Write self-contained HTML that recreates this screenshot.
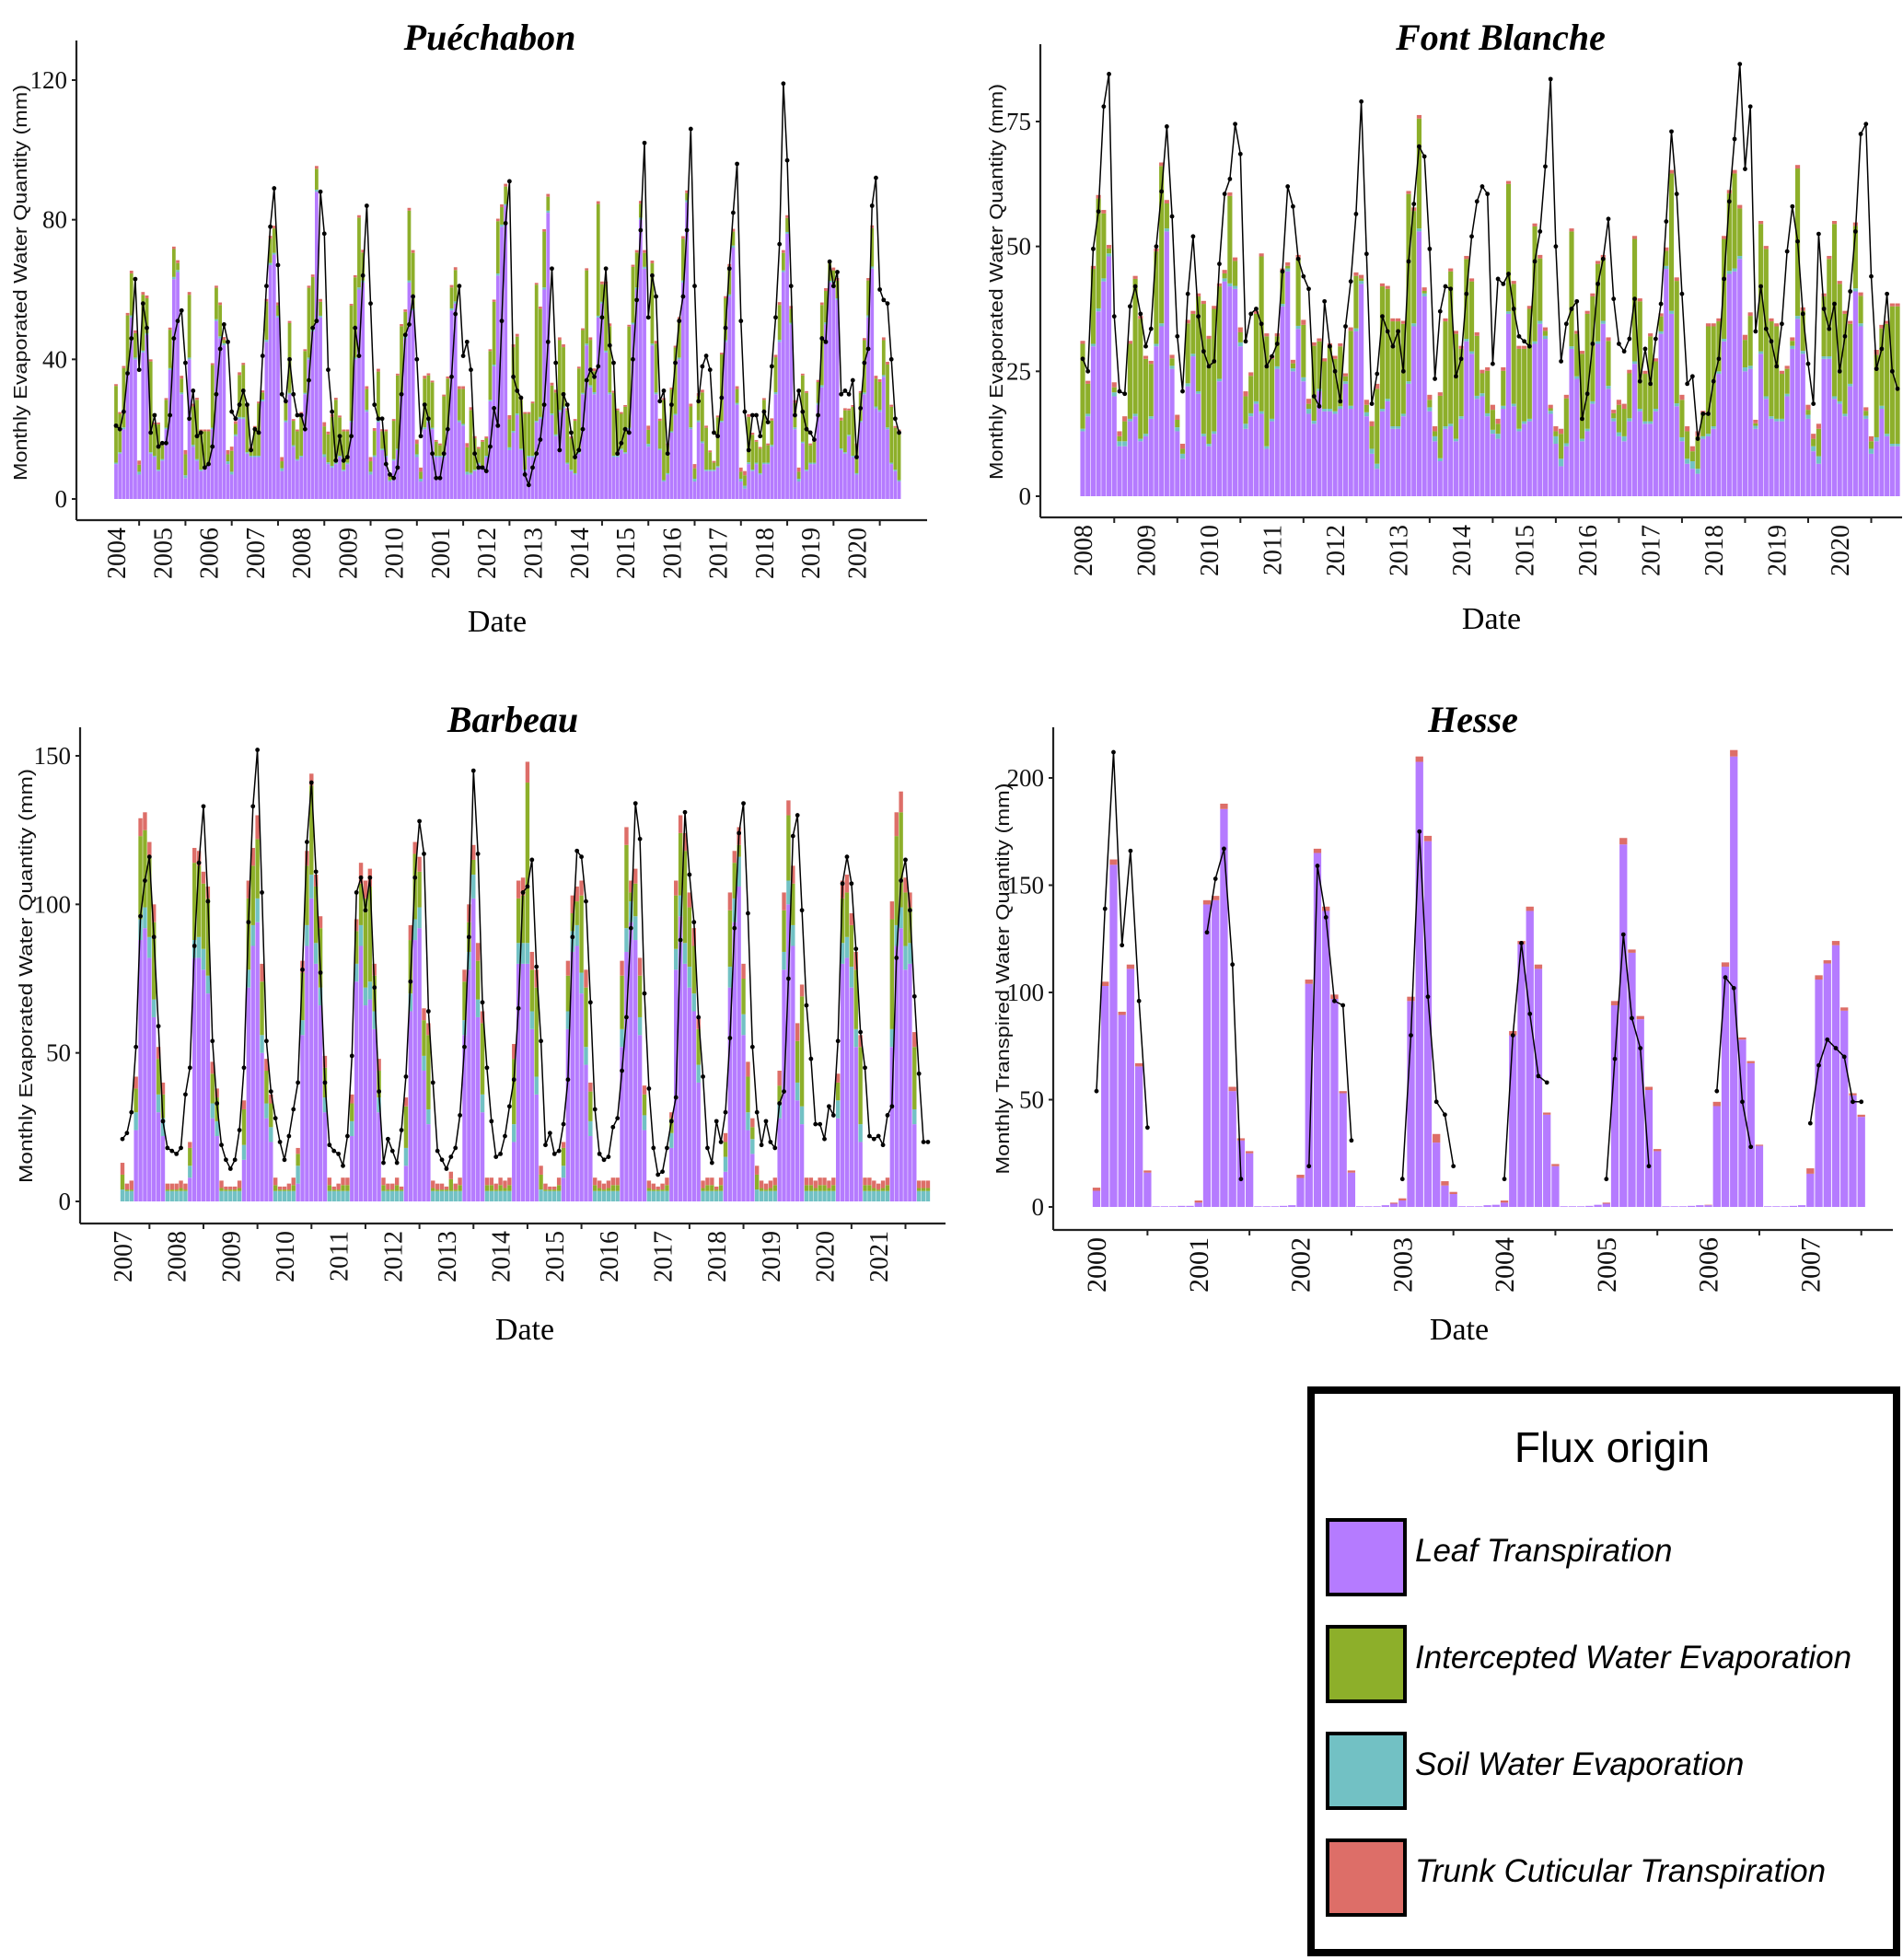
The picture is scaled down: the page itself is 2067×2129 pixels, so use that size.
<!DOCTYPE html>
<html><head><meta charset="utf-8"><style>
html,body{margin:0;padding:0;background:#fff;}
svg{display:block;}
</style></head><body>
<svg id="fig" xmlns="http://www.w3.org/2000/svg" width="2067" height="2129" viewBox="0 0 2067 2129">
<rect x="0" y="0" width="2067" height="2129" fill="#fff"/>
<g id="legend">
<rect x="1424" y="1510" width="636" height="611" fill="#fff" stroke="#000" stroke-width="8"/>
<text x="1751" y="1588" font-family="Liberation Sans, sans-serif" font-size="46" text-anchor="middle" fill="#000">Flux origin</text>
<g><rect x="1442" y="1651" width="84" height="81" fill="#B57BFF" stroke="#000" stroke-width="4"/><text x="1537" y="1696" font-family="Liberation Sans, sans-serif" font-style="italic" font-size="35" fill="#000">Leaf Transpiration</text></g>
<g><rect x="1442" y="1767" width="84" height="81" fill="#8DAF2A" stroke="#000" stroke-width="4"/><text x="1537" y="1812" font-family="Liberation Sans, sans-serif" font-style="italic" font-size="35" fill="#000">Intercepted Water Evaporation</text></g>
<g><rect x="1442" y="1883" width="84" height="81" fill="#72C1C4" stroke="#000" stroke-width="4"/><text x="1537" y="1928" font-family="Liberation Sans, sans-serif" font-style="italic" font-size="35" fill="#000">Soil Water Evaporation</text></g>
<g><rect x="1442" y="1999" width="84" height="81" fill="#DD6E68" stroke="#000" stroke-width="4"/><text x="1537" y="2044" font-family="Liberation Sans, sans-serif" font-style="italic" font-size="35" fill="#000">Trunk Cuticular Transpiration</text></g>
</g>
</svg>
<script>
// ---------------- Puéchabon ----------------
const puLeaf=[10,13,20,36,52,40,7,42,47,13,12,8, 11,20,37,63,65,30,6,40,15,11,8,9, 10,20,51,46,44,10,7,18,23,23,13,12, 12,12,28,45,67,70,52,8,22,30,15,11, 12,30,40,48,88,52,12,10,9,10,12,8, 10,22,40,60,62,25,7,12,22,14,12,5, 11,14,30,46,62,54,12,5,20,22,20,12, 12,12,20,54,56,22,21,7,7,8,10,9, 12,28,38,64,78,84,14,19,24,14,8,12, 12,22,23,60,82,24,18,25,26,10,8,7, 13,30,44,32,30,52,56,42,30,12,12,14, 13,20,50,60,80,66,15,44,30,14,5,7, 19,24,40,62,85,20,5,22,16,8,8,8, 9,22,45,58,72,27,5,3,10,8,10,7, 10,10,15,30,45,65,76,50,20,5,16,8, 10,10,27,32,50,62,62,57,14,13,18,12, 7,22,30,52,66,26,25,35,20,10,8,5];
const puInterc=[22,11,17,16,12,7,2,16,10,26,9,13, 4,8,11,8,2,4,6,18,11,17,11,10, 9,18,9,9,1,2,6,3,12,15,13,2, 8,15,2,11,7,7,3,2,5,20,7,8, 12,12,20,15,6,4,8,8,14,18,11,11, 9,33,23,20,8,6,3,7,14,5,7,1, 11,21,19,7,20,16,3,2,14,13,13,4, 3,17,14,6,9,9,10,7,18,9,4,7, 5,14,18,15,5,5,8,24,22,14,16,12, 15,39,31,16,4,8,12,20,17,15,9,15, 24,18,21,13,6,32,5,19,19,18,13,10, 13,29,16,10,4,4,4,23,14,8,23,8, 12,19,11,12,2,6,3,7,14,12,5,2, 14,19,12,8,4,4,2,3,13,10,6,7, 18,5,7,10,10,5,4,4,7,2,19,22, 5,6,6,23,9,5,3,5,8,12,7,14, 8,8,15,10,11,8,8,10,18,16,12,14];
const puSoil=[0.4,0.4,0.5,0.6,0.6,0.5,0.8,0.5,0.5,0.4,0.4,0.4, 0.4,0.4,0.5,0.6,0.6,0.5,0.8,0.5,0.5,0.4,0.4,0.4, 0.4,0.4,0.5,0.6,0.6,0.8,0.8,0.5,0.5,0.4,0.4,0.4, 0.4,0.4,0.5,0.6,0.6,0.5,0.5,0.8,0.5,0.4,0.4,0.4, 0.4,0.4,0.5,0.6,0.6,0.5,0.8,0.5,0.5,0.4,0.4,0.4, 0.4,0.4,0.5,0.6,0.6,0.5,0.8,0.5,0.5,0.4,0.4,0.4, 0.4,0.4,0.5,0.6,0.6,0.5,0.8,0.8,0.5,0.4,0.4,0.4, 0.4,0.4,0.5,0.6,0.6,0.5,0.5,0.8,0.5,0.4,0.4,0.4, 0.4,0.4,0.5,0.6,0.6,0.5,0.8,0.5,0.5,0.4,0.4,0.4, 0.4,0.4,0.5,0.6,0.6,0.5,0.5,0.5,0.5,0.4,0.4,0.4, 0.4,0.4,0.5,0.6,0.6,0.5,0.5,0.5,0.5,0.4,0.4,0.4, 0.4,0.4,0.5,0.6,0.6,0.5,0.8,0.5,0.5,0.4,0.4,0.4, 0.4,0.4,0.5,0.6,0.6,0.5,0.8,0.5,0.5,0.4,0.4,0.4, 0.4,0.4,0.5,0.6,0.6,0.5,0.8,0.8,0.5,0.4,0.4,0.4, 0.4,0.4,0.5,0.6,0.6,0.5,0.5,0.5,0.5,0.8,0.4,0.4, 0.4,0.4,0.5,0.6,0.6,0.5,0.5,0.5,0.5,0.4,0.4,0.4, 0.4,0.4,0.5,0.6,0.6,0.5,0.5,0.5,0.5,0.4,0.4,0.4];
const puTrunk=[0.5,0.5,0.6,0.7,0.8,0.8,1.2,0.8,0.8,0.6,0.5,0.5, 0.5,0.5,0.6,0.7,0.8,0.8,1.2,0.8,0.8,0.6,0.5,0.5, 0.5,0.5,0.6,0.7,0.8,1.2,1.2,0.8,0.8,0.6,0.5,0.5, 0.5,0.5,0.6,0.7,0.8,0.8,0.8,1.2,0.8,0.6,0.5,0.5, 0.5,0.5,0.6,0.7,0.8,0.8,1.2,0.8,0.8,0.6,0.5,0.5, 0.5,0.5,0.6,0.7,0.8,0.8,1.2,0.8,0.8,0.6,0.5,0.5, 0.5,0.5,0.6,0.7,0.8,0.8,1.2,1.2,0.8,0.6,0.5,0.5, 0.5,0.5,0.6,0.7,0.8,0.8,0.8,1.2,0.8,0.6,0.5,0.5, 0.5,0.5,0.6,0.7,0.8,0.8,1.2,0.8,0.8,0.6,0.5,0.5, 0.5,0.5,0.6,0.7,0.8,0.8,0.8,0.8,0.8,0.6,0.5,0.5, 0.5,0.5,0.6,0.7,0.8,0.8,0.8,0.8,0.8,0.6,0.5,0.5, 0.5,0.5,0.6,0.7,0.8,0.8,1.2,0.8,0.8,0.6,0.5,0.5, 0.5,0.5,0.6,0.7,0.8,0.8,1.2,0.8,0.8,0.6,0.5,0.5, 0.5,0.5,0.6,0.7,0.8,0.8,1.2,1.2,0.8,0.6,0.5,0.5, 0.5,0.5,0.6,0.7,0.8,0.8,0.8,0.8,0.8,1.2,0.5,0.5, 0.5,0.5,0.6,0.7,0.8,0.8,0.8,0.8,0.8,0.6,0.5,0.5, 0.5,0.5,0.6,0.7,0.8,0.8,0.8,0.8,0.8,0.6,0.5,0.5];
const puLine=[21,20,25,36,46,63,37,56,49,19,24,15, 16,16,24,46,51,54,39,23,31,18,19,9, 10,15,30,43,50,45,25,23,27,31,27,14, 20,19,41,61,78,89,67,30,28,40,30,24, 24,20,34,49,51,88,76,37,25,11,18,11, 12,18,49,41,64,84,56,27,23,23,10,7, 6,9,30,47,50,58,40,18,27,23,13,6, 6,13,20,35,53,61,41,45,37,13,9,9, 8,15,26,21,51,79,91,35,31,29,7,4, 9,13,17,27,45,66,39,14,30,27,19,12, 14,20,34,37,35,38,52,66,44,39,13,16, 20,19,40,57,77,102,52,64,58,28,31,13, 27,39,51,58,77,106,61,28,38,41,37,19, 18,29,49,66,82,96,51,25,14,24,24,18, 25,22,38,52,73,119,97,61,24,31,25,20, 19,17,24,46,45,68,61,65,30,31,30,34, 12,26,39,43,84,92,60,57,56,40,23,19];
const puYearLabels=["2004","2005","2006","2007","2008","2009","2010","2001","2012","2013","2014","2015","2016","2017","2018","2019","2020"];
const puYTicks=[0,40,80,120];

// ---------------- Font Blanche ----------------
const fbLeaf=[13,16,30,37,43,48,20,10,10,15,16,11, 12,15.5,30,34,53,25.5,13,7.5,22,28,20.5,12, 10,12.5,23,43,42,41.5,30,13.5,16,18.5,16.5,9.5, 15,25.5,38,45,25,33.5,23,16.5,14.5,21,17,17, 16.5,17.5,22.5,17.5,33,42.5,16,8.5,5.5,17,19,13.5, 13.5,16,22.5,34,53,40,17,11,7,13.5,14,11, 15.5,31,28.5,19.5,20,16,12.5,11.5,17.5,36.5,18,13, 14.5,15,30.5,34.5,31.5,16.5,10.5,6,10,29.5,23.5,11, 13,18.5,30.5,34.5,21.5,15,12,11,15,26.5,17,14.5, 14.5,17,32.5,45.5,36.5,18,11,6.5,5.5,4.5,11.5,12, 13.5,24.5,31,44.5,45,47.5,25,25.5,13.5,28.5,19.5,15.5, 15,15,20,29.5,35.5,28.5,15.5,9,6.5,27.5,27.5,19.5, 18.5,16,22,41,34,15.5,8.5,11,17.5,12,10,10];
const fbInterc=[17,6,15,22,13,1,1,1,4,15,27,24, 15,10.5,18.5,31.5,5,1.5,1.5,1,12,8,19,26, 21,24.5,18.5,1,17.5,5,2,5.5,7.5,17.5,31,22, 12,6,6.5,0.5,1,13.5,10.5,1,15,9.5,9.5,12.5, 10.5,12,1,15,10.5,0.5,1.5,4.5,15,24.5,22,21, 21,18,37.5,22.5,22,0.5,1.5,1,12.5,21,30.5,21, 13.5,16,14,12,4,8.5,4,2,7,25.5,24,16, 14.5,22,23,12.5,1,0.5,1,5,9,23,8.5,17, 23,21,15.5,12.5,9,1,5.5,5.5,9,24.5,21.5,9.5, 17,9.5,3,3,27.5,24.5,7.5,5.5,2,6.5,4.5,21.5, 20,10,20,15.5,19,9.5,5.5,10,0.5,25.5,29.5,19, 18.5,9,5,1,29.5,8,1,1.5,5.5,12,19.5,34.5, 23.5,20,12,12.5,5.5,1,1.5,16.5,15.5,22,27.5,27.5];
const fbSoil=[0.5,0.5,0.5,0.6,0.6,0.6,0.8,1,1,0.5,0.5,0.5, 0.5,0.5,0.5,0.6,0.6,0.6,0.8,1,0.6,0.5,0.5,0.5, 0.5,0.5,0.5,0.6,0.6,0.6,0.8,1,0.6,0.5,0.5,0.5, 0.5,0.5,0.5,0.6,0.6,0.6,0.8,1,0.6,0.5,0.5,0.5, 0.5,0.5,0.5,0.6,0.6,0.6,0.8,1,1,0.5,0.5,0.5, 0.5,0.5,0.5,0.6,0.6,0.6,0.8,1,0.6,0.5,0.5,0.5, 0.5,0.5,0.5,0.6,0.6,0.6,0.8,1,0.6,0.5,0.5,0.5, 0.5,0.5,0.5,0.6,0.6,0.6,1.5,1.5,0.6,0.5,0.5,0.5, 0.5,0.5,0.5,0.6,0.6,0.6,0.8,1,0.6,0.5,0.5,0.5, 0.5,0.5,0.5,0.6,0.6,0.6,0.8,1,1.5,1,0.5,0.5, 0.5,0.5,0.5,0.6,0.6,0.6,0.8,0.6,0.6,0.5,0.5,0.5, 0.5,0.5,0.5,0.6,0.6,0.6,0.8,1,1.5,0.5,0.5,0.5, 0.5,0.5,0.5,0.6,0.6,0.6,1,0.8,0.6,0.5,0.5,0.5];
const fbTrunk=[0.6,0.6,0.6,0.7,0.7,0.7,1,1,1,0.6,0.6,0.6, 0.6,0.6,0.6,0.7,0.7,0.7,1,1,0.7,0.6,0.6,0.6, 0.6,0.6,0.6,0.7,0.7,0.7,1,1,0.7,0.6,0.6,0.6, 0.6,0.6,0.6,0.7,0.7,0.7,1,1,0.7,0.6,0.6,0.6, 0.6,0.6,0.6,0.7,0.7,0.7,1,1,1,0.6,0.6,0.6, 0.6,0.6,0.6,0.7,0.7,0.7,1,1,0.7,0.6,0.6,0.6, 0.6,0.6,0.6,0.7,0.7,0.7,1,1,0.7,0.6,0.6,0.6, 0.6,0.6,0.6,0.7,0.7,0.7,1,1,0.7,0.6,0.6,0.6, 0.6,0.6,0.6,0.7,0.7,0.7,1,1,0.7,0.6,0.6,0.6, 0.6,0.6,0.6,0.7,0.7,0.7,1,1,1,1,0.6,0.6, 0.6,0.6,0.6,0.7,0.7,0.7,1,0.7,0.7,0.6,0.6,0.6, 0.6,0.6,0.6,0.7,0.7,0.7,1,1,1,0.6,0.6,0.6, 0.6,0.6,0.6,0.7,0.7,0.7,1,1,0.7,0.6,0.6,0.6];
const fbLine=[27.5,25,49.5,57,78,84.5,36,21,20.5,38,42,36.5, 30,33.5,50,61,74,56,32,21,40.5,52,36,29, 26,27,46.5,60.5,63.5,74.5,68.5,31,36.5,37.5,34.5,26, 28,30.5,45,62,58,47.5,44,41.5,20,18,39,30, 25,19,34,43,56.5,79,48.5,18.5,24.5,36,33,30, 33,25,47,58.5,70,68,49.5,23.5,37,42,41.5,24, 27.5,40.5,52,59,62,60.5,26.5,43.5,42.5,44.5,37.5,32, 31,30,47,53,66,83.5,50,27,34.5,37.5,39,15.5, 20.5,30.5,42.5,47.5,55.5,39.5,30.5,29,31.5,39.5,23,29.5, 22.5,31.5,38.5,55,73,60.5,40.5,22.5,24,11.5,16.5,16.5, 23,27.5,43.5,59,71.5,86.5,65.5,78,33,42,33.5,31, 26,34.5,49,58,51,36.5,26.5,18.5,52.5,37.5,33.5,38.5, 25,32,41,53,72.5,74.5,44,25.5,29.5,40.5,25,21.5];
const fbYearLabels=["2008","2009","2010","2011","2012","2013","2014","2015","2016","2017","2018","2019","2020"];
const fbYTicks=[0,25,50,75];

// ---------------- Barbeau ----------------
const baLeaf=[0,0,0,24,88,92,82,62,30,22,0,0, 0,0,0,8,82,82,78,70,28,22,0,0, 0,0,0,14,72,86,94,50,28,20,0,0, 0,0,0,6,56,86,102,80,66,30,0,0, 0,0,0,22,74,86,66,68,58,30,0,0, 0,0,0,12,64,88,92,44,26,0,0,0, 0,0,0,0,56,78,102,62,30,0,0,0, 0,0,0,20,80,80,80,58,36,0,0,0, 0,0,8,58,84,86,70,46,22,0,0,0, 0,0,0,52,84,94,88,56,24,0,0,0, 0,0,18,78,96,80,72,64,40,0,0,0, 0,0,10,72,94,106,56,24,16,0,0,0, 0,0,28,78,100,86,34,26,0,0,0,0, 0,0,0,28,80,82,72,52,20,0,0,0, 0,0,0,52,86,92,78,80,26,0,0,0];
const baSoil=[4,3.5,3.5,6,7,7,7,6,6,6,3.5,3.5, 3.5,3.5,3.5,4,6,7,7,6,5,5,3.5,3.5, 3.5,3.5,3.5,5,6,7,8,6,5,5,3.5,3.5, 3.5,3.5,3.5,6,5,7,8,7,6,5,3.5,3.5, 3.5,3.5,3.5,5,6,7,6,6,6,5,3.5,3.5, 3.5,3.5,3.5,6,6,7,7,5,5,3.5,3.5,3.5, 3.5,3.5,3.5,3.5,5,6,8,6,6,3.5,3.5,3.5, 3.5,3.5,3.5,6,7,7,7,6,6,4,3.5,3.5, 3.5,3.5,4,6,7,7,7,6,5,3.5,3.5,3.5, 3.5,3.5,3.5,6,8,7,8,6,5,3.5,3.5,3.5, 3.5,3.5,5,7,7,7,7,6,6,3.5,3.5,3.5, 3.5,3.5,5,7,8,10,7,6,5,4,3.5,3.5, 3.5,3.5,5,6,8,7,6,6,3.5,3.5,3.5,3.5, 3.5,3.5,3.5,6,7,7,7,6,6,3.5,3.5,3.5, 3.5,3.5,3.5,6,7,7,8,7,5,3.5,3.5,3.5];
const baInterc=[5,0.5,0.5,8,28,26,27,26,12,8,0.5,0.5, 0.5,1,0.5,6,26,24,22,26,10,8,1,0.5, 0.5,0.5,1,12,24,20,20,18,11,8,2,0.5, 0.5,0.5,2,4,16,20,30,19,20,10,2,0.5, 0.5,2,2,6,11,14,30,32,12,9,2,0.5, 0.5,2,0.5,14,18,22,12,12,25,1,0.5,0.5, 0.5,4,0.5,2,13,10,5,13,24,2,2,0.5, 2,1,2,22,15,16,54,14,30,5,0.5,0.5, 0.5,2,6,12,6,8,26,20,10,2,1,0.5, 1,2,2,18,28,3,11,14,7,1,0.5,0.5, 0.5,2,5,18,21,31,20,16,12,1,2,2, 0.5,2,5,19,12,4,12,12,4,5,1,0.5, 1,2,6,14,22,14,14,37,2,2,1,2, 2,1,2,6,15,15,14,20,26,2,2,1, 0.5,1,2,37,30,32,18,12,21,1,1,1];
const baTrunk=[4,2,3,4,6,6,5,6,4,4,2,2, 2,2.5,2,2,5,5,4,4,4,3,2.5,1, 1,1,2.5,3,6,6,8,6,4,3,2.5,1, 1,2,2.5,2,4,5,4,4,4,4,2.5,1, 2,2.5,2.5,3,4,7,6,6,4,4,2.5,2, 2,2.5,1,3,5,4,5,4,4,2.5,2,2, 1,2.5,2,2.5,4,6,5,6,4,2.5,2.5,2, 2.5,2.5,2.5,5,6,6,7,6,6,3,2,1, 1,2.5,2,5,6,5,5,6,3,2.5,2.5,2, 2.5,2.5,2.5,5,6,4,5,6,3,2.5,2,1, 2,2.5,2,5,6,6,5,6,4,2.5,2.5,2.5, 1,2.5,3,6,4,6,5,5,3,3,2.5,2, 2.5,2.5,5,6,5,6,6,4,2.5,2.5,2.5,2.5, 2.5,2.5,2.5,3,6,6,4,6,4,2.5,2.5,2.5, 2,2.5,2.5,6,8,7,5,5,5,2.5,2.5,2.5];
const baLine=[21,23,30,52,96,108,116,89,59,27,18,17, 16,18,36,45,86,114,133,101,54,33,19,14, 11,14,24,45,94,133,152,104,54,37,28,20, 14,22,31,40,78,121,141,111,77,40,19,17, 16,12,22,49,104,109,98,109,72,37,13,21, 17,13,24,42,74,109,128,117,64,40,17,14, 11,15,18,29,52,89,145,117,67,45,27,15, 16,22,32,41,65,104,106,115,79,54,19,23, 16,17,26,41,89,118,116,101,67,31,16,14, 15,25,28,44,62,92,134,122,70,38,18,9, 10,18,27,35,88,131,110,94,62,42,18,13, 27,20,30,55,92,124,134,97,52,30,19,27, 20,18,33,37,75,123,130,98,66,48,26,26, 21,32,29,54,107,116,107,85,57,45,22,21, 22,19,29,32,82,108,115,98,69,43,20,20];
const baYearLabels=["2007","2008","2009","2010","2011","2012","2013","2014","2015","2016","2017","2018","2019","2020","2021"];
const baYTicks=[0,50,100,150];

// ---------------- Hesse ----------------
const heLeaf=[7.5,103,159.5,89.5,111,65.5,16,0.3,0.3,0.3,0.5,0.5, 2,141,143,185.5,54,31,25,0.3,0.3,0.3,0.5,0.8, 13.5,104,165,138,97,53,16,0.3,0.3,0.3,0.8,1.5, 3,96,207.5,170.5,30,10,6,0.3,0.3,0.3,0.8,1, 2,80,122.5,138,111,43,19,0.3,0.3,0.3,0.5,1, 1.5,94,169,118.5,87.5,54.5,26,0.3,0.3,0.3,0.5,0.8, 0.8,47,112,210,78,67,28.5,0.3,0.3,0.3,0.5,0.8, 15.5,106,113.5,122,91.5,52,42];
const heTrunk=[1.5,2,2.5,1.5,2,1.5,1,0,0,0,0,0, 1,2,2,2.5,2,1,1,0,0,0,0,0, 1.5,2,2,2,2,1,1,0,0,0,0,0.5, 1,2,2.5,2.5,4,2,1,0,0,0,0,0, 1,2,1.5,2,2,1,1,0,0,0,0,0, 0.5,2,3,1.5,1.5,1.5,1,0,0,0,0,0, 0.2,2,2,3,1,1,0.5,0,0,0,0,0, 2.5,2,1.5,2,1.5,1,1];
const heLine=[54,139,212,122,166,96,37,null,null,null,null,null, null,128,153,167,113,13,null,null,null,null,null,null, null,19,159,135,96,94,31,null,null,null,null,null, 13,80,175,98,49,43,19,null,null,null,null,null, 13,80,123,90,61,58,null,null,null,null,null,null, 13,69,127,88,74,19,null,null,null,null,null,null, null,54,107,102,49,28,null,null,null,null,null,null, 39,66,78,74,70,49,49];
const heYearLabels=["2000","2001","2002","2003","2004","2005","2006","2007"];
const heYTicks=[0,50,100,150,200];

const COL={leaf:"#B57BFF",soil:"#72C1C4",interc:"#8DAF2A",trunk:"#DD6E68"};
const NS="http://www.w3.org/2000/svg";
const svg=document.getElementById('fig');
const legendNode=document.getElementById('legend');

function mk(tag,attrs,parent){const e=document.createElementNS(NS,tag);for(const k in attrs)e.setAttribute(k,attrs[k]);parent.appendChild(e);return e;}

function panel(cfg){
  const g=mk('g',{},svg);
  
  
  svg.insertBefore(g,legendNode);
  const y=v=>cfg.y0-v*cfg.ppu;
  const x=i=>cfg.bx0+i*cfg.step;
  const bw=cfg.step*0.9;
  const n=cfg.series[0].vals.length;
  const bars=mk('g',{},g);
  
  
  for(let i=0;i<n;i++){
    let base=0;
    for(const s of cfg.series){
      const v=s.vals[i]||0; if(v<=0) continue;
      const r=mk('rect',{x:x(i)-bw/2,y:y(base+v),width:bw,height:v*cfg.ppu,fill:COL[s.k]},bars);
      
      
      base+=v;
    }
  }
  const lg=mk('g',{},g);
  
  
  let seg=[];
  const segs=[];
  for(let i=0;i<cfg.line.length;i++){
    const v=cfg.line[i];
    if(v===null||v===undefined){if(seg.length)segs.push(seg);seg=[];continue;}
    seg.push([x(i),y(v)]);
  }
  if(seg.length)segs.push(seg);
  for(const s of segs){
    const p=mk('polyline',{points:s.map(q=>q[0].toFixed(1)+','+q[1].toFixed(1)).join(' '),fill:'none',stroke:'#000','stroke-width':1.5},lg);
    
    
    for(const q of s){
      const c=mk('circle',{cx:q[0],cy:q[1],r:2.4,fill:'#000'},lg);
      
      
    }
  }
  const ya=mk('line',{x1:cfg.ax,y1:cfg.atop,x2:cfg.ax,y2:cfg.xay,stroke:'#222','stroke-width':2.2},g);
  
  
  const xa=mk('line',{x1:cfg.ax,y1:cfg.xay,x2:cfg.xend,y2:cfg.xay,stroke:'#222','stroke-width':2.2},g);
  
  
  for(const t of cfg.yt){
    const tk=mk('line',{x1:cfg.ax-5,y1:y(t),x2:cfg.ax,y2:y(t),stroke:'#222','stroke-width':2},g);
    
    
    const tl=mk('text',{x:cfg.ax-10,y:y(t)+9,'text-anchor':'end','font-family':'Liberation Serif, serif','font-size':27,fill:'#111'},g);
    tl.textContent=String(t);
    
    
  }
  cfg.years.forEach((lab,k)=>{
    const tx=x(12*k+6);
    if(12*k+6<n+1){
      const tk=mk('line',{x1:tx,y1:cfg.xay,x2:tx,y2:cfg.xay+6,stroke:'#222','stroke-width':2},g);
      
      
    }
    const lx=x(12*k)+10, ly=cfg.xay+8;
    const tl=mk('text',{x:lx,y:ly,'text-anchor':'end','font-family':'Liberation Serif, serif','font-size':cfg.xfs,fill:'#111',transform:'rotate(-90 '+lx+' '+ly+')'},g);
    tl.textContent=lab;
    
    
  });
  const ti=mk('text',{x:cfg.tx,y:cfg.ty,'text-anchor':'middle','font-family':'Liberation Serif, serif','font-size':40,'font-weight':'bold','font-style':'italic',fill:'#000'},g);
  ti.textContent=cfg.title;
  
  
  const dx=mk('text',{x:cfg.dx,y:cfg.dy,'text-anchor':'middle','font-family':'Liberation Serif, serif','font-size':34,fill:'#000'},g);
  dx.textContent='Date';
  
  
  const yt=mk('text',{x:cfg.ytx,y:cfg.yty,'text-anchor':'middle','font-family':'Liberation Sans, sans-serif','font-size':20,fill:'#111',textLength:cfg.ytl,lengthAdjust:'spacingAndGlyphs',transform:'rotate(-90 '+cfg.ytx+' '+cfg.yty+')'},g);
  yt.textContent=cfg.ytitle;
  
  
}

panel({key:'puechabon',title:'Puéchabon',y0:542,ppu:(542-87)/120,bx0:126,step:4.19,ax:83,atop:44,xay:565,xend:1007,xfs:28,
  series:[{k:'leaf',vals:puLeaf},{k:'soil',vals:puSoil},{k:'interc',vals:puInterc},{k:'trunk',vals:puTrunk}],
  line:puLine,years:puYearLabels,yt:puYTicks,tx:532,ty:54,dx:540,dy:686,ytx:29,yty:307,ytl:430,ytitle:'Monthly Evaporated Water Quantity (mm)'});
panel({key:'font-blanche',title:'Font Blanche',y0:539,ppu:(539-132)/75,bx0:1176,step:5.71,ax:1130,atop:48,xay:562,xend:2066,xfs:28,
  series:[{k:'leaf',vals:fbLeaf},{k:'soil',vals:fbSoil},{k:'interc',vals:fbInterc},{k:'trunk',vals:fbTrunk}],
  line:fbLine,years:fbYearLabels,yt:fbYTicks,tx:1630,ty:54,dx:1620,dy:683,ytx:1089,yty:306,ytl:430,ytitle:'Monthly Evaporated Water Quantity (mm)'});
panel({key:'barbeau',title:'Barbeau',y0:1305,ppu:(1305-821)/150,bx0:133,step:4.888,ax:87,atop:790,xay:1329,xend:1027,xfs:28,
  series:[{k:'leaf',vals:baLeaf},{k:'soil',vals:baSoil},{k:'interc',vals:baInterc},{k:'trunk',vals:baTrunk}],
  line:baLine,years:baYearLabels,yt:baYTicks,tx:557,ty:795,dx:570,dy:1455,ytx:35,yty:1060,ytl:450,ytitle:'Monthly Evaporated Water Quantity (mm)'});
panel({key:'hesse',title:'Hesse',y0:1311,ppu:(1311-845)/200,bx0:1191,step:9.23,ax:1144,atop:790,xay:1336,xend:2056,xfs:30,
  series:[{k:'leaf',vals:heLeaf},{k:'trunk',vals:heTrunk}],
  line:heLine,years:heYearLabels,yt:heYTicks,tx:1600,ty:795,dx:1585,dy:1455,ytx:1096,yty:1063,ytl:425,ytitle:'Monthly Transpired Water Quantity (mm)'});
</script>
</body></html>
